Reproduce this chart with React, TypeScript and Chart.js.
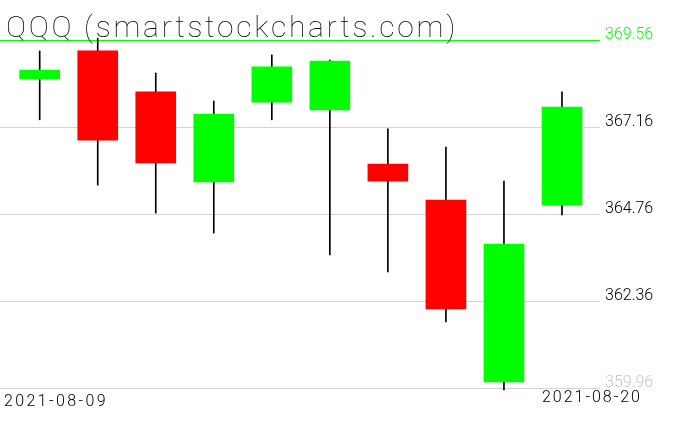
import React, { useEffect, useRef } from "react";
import { Chart, registerables } from "chart.js";

Chart.register(...registerables);

const TITLE = "QQQ (smartstockcharts.com)";
const dates = [
  "2021-08-09", "2021-08-10", "2021-08-11", "2021-08-12", "2021-08-13",
  "2021-08-16", "2021-08-17", "2021-08-18", "2021-08-19", "2021-08-20",
];
const opens = [368.49, 369.26, 368.13, 365.65, 367.85, 367.63, 366.14, 365.15, 360.14, 365.01];
const highs = [369.26, 369.61, 368.65, 367.88, 369.15, 369.01, 367.11, 366.61, 365.67, 368.13];
const lows = [367.36, 365.56, 364.79, 364.24, 367.36, 363.64, 363.17, 361.79, 359.92, 364.74];
const closes = [368.73, 366.8, 366.17, 367.52, 368.82, 368.98, 365.67, 362.15, 363.94, 367.71];
const yTicks = [359.96, 362.36, 364.76, 367.16, 369.56];

const GREEN = "#00ff00";
const RED = "#ff0000";
const GRID = "#d3d3d3";

const textPlugin = {
  id: "texts",
  afterDraw(chart: any) {
    const ctx = chart.ctx as CanvasRenderingContext2D;
    const fit = (text: string, x: number, y: number, width: number, font: string, color: string) => {
      ctx.save();
      ctx.font = font;
      ctx.fillStyle = color;
      ctx.textBaseline = "alphabetic";
      ctx.textAlign = "left";
      const w = ctx.measureText(text).width;
      (ctx as any).letterSpacing = ((width - w) / text.length).toFixed(2) + "px";
      ctx.fillText(text, x, y);
      ctx.restore();
    };
    fit(TITLE, 6, 37, 452, "100 30px Roboto", "#000");
    fit(dates[0], 4, 406, 104, "300 16px Roboto", "#000");
    fit(dates[dates.length - 1], 542, 402, 100, "300 16px Roboto", "#000");
  },
};

export default function App() {
  const ref = useRef<HTMLCanvasElement | null>(null);
  useEffect(() => {
    if (!ref.current) return;
    const topVal = yTicks[yTicks.length - 1];
    const bottomVal = yTicks[0];
    const chart = new Chart(ref.current, {
      type: "bar",
      data: {
        datasets: [
          {
            label: "body",
            data: opens.map((o, i) => ({ x: i, y: [o, closes[i]] })) as any,
            backgroundColor: opens.map((o, i) => (closes[i] >= o ? GREEN : RED)),
            borderWidth: 0,
            barThickness: 40,
            grouped: false,
            clip: false as any,
            order: 1,
          } as any,
          {
            label: "wick",
            data: lows.map((l, i) => ({ x: i, y: [l, highs[i]] })) as any,
            backgroundColor: "#000",
            borderWidth: 0,
            barThickness: 1,
            grouped: false,
            clip: false as any,
            order: 2,
          } as any,
        ],
      },
      options: {
        animation: false,
        responsive: false,
        devicePixelRatio: 1,
        layout: { padding: { top: 40, bottom: 42.6, left: 0, right: 0 } },
        plugins: { legend: { display: false }, tooltip: { enabled: false }, title: { display: false } },
        scales: {
          x: {
            type: "linear",
            min: -0.684,
            max: 9.655,
            offset: false,
            display: false,
          },
          y: {
            position: "right",
            min: bottomVal,
            max: topVal,
            afterBuildTicks: (s: any) => {
              s.ticks = yTicks.map((v) => ({ value: v }));
            },
            afterFit: (s: any) => {
              s.width = 76;
            },
            grid: {
              color: (c: any) => (c.tick && c.tick.value === topVal ? GREEN : GRID),
              drawTicks: false,
              lineWidth: 1,
            },
            border: { display: false },
            ticks: {
              padding: 5,
              labelOffset: -5,
              color: (c: any) =>
                c.tick && c.tick.value === topVal ? GREEN : c.tick && c.tick.value === bottomVal ? "#c8c8c8" : "#000",
              font: { family: "Roboto", size: 16, weight: "300" as any },
              callback: (v: any) => Number(v).toFixed(2),
            },
          },
        },
      },
      plugins: [textPlugin],
    });
    return () => chart.destroy();
  }, []);
  return (
    <div style={{ position: "absolute", left: 0, top: 0, width: 676, height: 431 }}>
      <canvas ref={ref} width={676} height={431} />
    </div>
  );
}
